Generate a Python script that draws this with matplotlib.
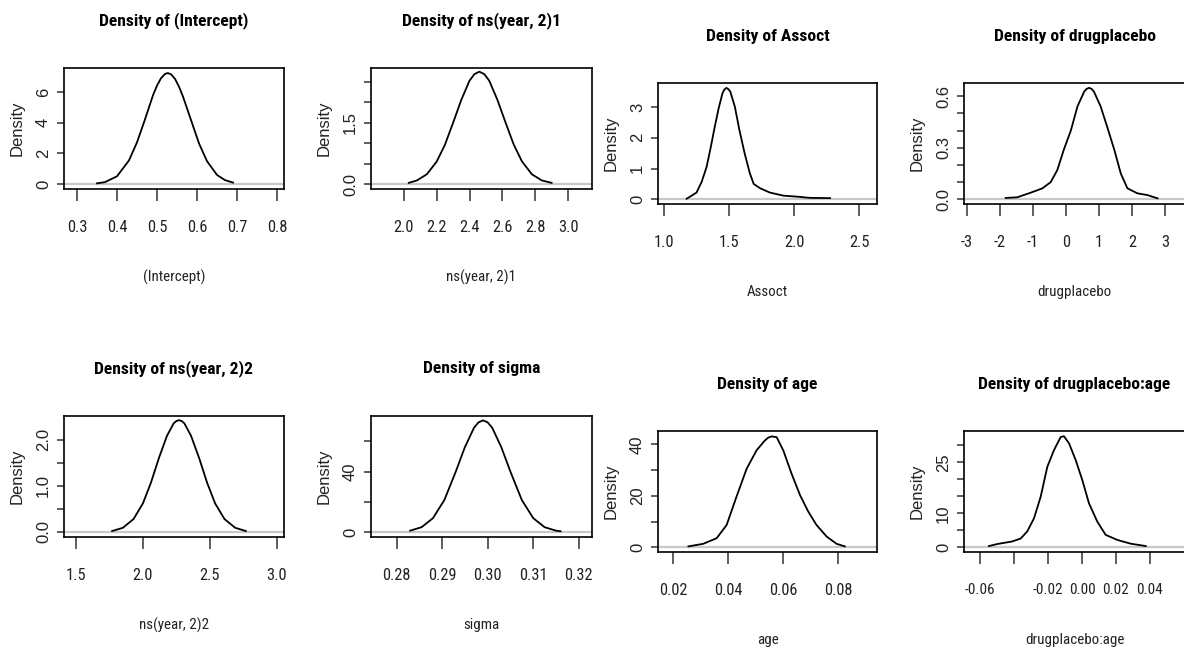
import matplotlib
matplotlib.use("Agg")
import matplotlib.pyplot as plt
import matplotlib.font_manager as fm

# posterior density curves
names = ["(Intercept)", "ns(year, 2)1", "Assoct", "drugplacebo",
         "ns(year, 2)2", "sigma", "age", "drugplacebo:age"]

icpt_x = [0.35, 0.37, 0.40, 0.43, 0.45, 0.47, 0.49, 0.50, 0.51, 0.52, 0.527, 0.535, 0.545, 0.555, 0.565, 0.585, 0.605, 0.625, 0.65, 0.67, 0.69]
icpt_y = [0.04, 0.12, 0.50, 1.54, 2.72, 4.22, 5.80, 6.43, 6.91, 7.19, 7.25, 7.17, 6.87, 6.36, 5.71, 4.18, 2.65, 1.49, 0.59, 0.25, 0.09]

ns1_x = [2.03, 2.08, 2.14, 2.20, 2.25, 2.30, 2.35, 2.40, 2.43, 2.46, 2.49, 2.52, 2.57, 2.62, 2.67, 2.72, 2.78, 2.84, 2.90]
ns1_y = [0.03, 0.09, 0.24, 0.55, 0.96, 1.50, 2.06, 2.53, 2.69, 2.75, 2.69, 2.53, 2.06, 1.50, 0.96, 0.55, 0.24, 0.09, 0.03]

assoc_x = [1.174, 1.25, 1.29, 1.328, 1.36, 1.39, 1.42, 1.45, 1.465, 1.48, 1.495, 1.51, 1.545, 1.58, 1.62, 1.66, 1.69, 1.74, 1.815, 1.92, 2.02, 2.12, 2.277]
assoc_y = [0.02, 0.22, 0.57, 1.06, 1.70, 2.35, 2.95, 3.45, 3.57, 3.62, 3.58, 3.50, 3.01, 2.25, 1.50, 0.85, 0.50, 0.36, 0.22, 0.12, 0.09, 0.05, 0.04]

drug_x = [-1.82, -1.47, -1.06, -0.71, -0.46, -0.26, -0.06, 0.15, 0.35, 0.55, 0.62, 0.70, 0.78, 0.85, 1.05, 1.25, 1.46, 1.66, 1.86, 2.16, 2.46, 2.77]
drug_y = [0.008, 0.012, 0.039, 0.064, 0.10, 0.17, 0.29, 0.40, 0.54, 0.625, 0.641, 0.648, 0.641, 0.625, 0.54, 0.42, 0.29, 0.15, 0.064, 0.035, 0.025, 0.006]

ns2_x = [1.77, 1.85, 1.93, 2.00, 2.06, 2.12, 2.18, 2.23, 2.25, 2.27, 2.29, 2.31, 2.36, 2.42, 2.48, 2.54, 2.61, 2.69, 2.77]
ns2_y = [0.02, 0.09, 0.28, 0.62, 1.07, 1.61, 2.09, 2.36, 2.41, 2.43, 2.41, 2.36, 2.09, 1.61, 1.07, 0.62, 0.28, 0.09, 0.02]

sigma_x = [0.283, 0.2855, 0.288, 0.2905, 0.293, 0.295, 0.297, 0.298, 0.299, 0.300, 0.301, 0.303, 0.305, 0.3075, 0.310, 0.3125, 0.315, 0.316]
sigma_y = [0.9, 3.2, 9.2, 21.2, 40.0, 56.2, 69.1, 72.7, 74.0, 72.7, 69.1, 56.2, 40.0, 21.2, 9.2, 3.2, 0.9, 0.5]

age_x = [0.0255, 0.0309, 0.0358, 0.0394, 0.043, 0.0467, 0.0503, 0.0533, 0.0545, 0.0558, 0.0576, 0.060, 0.063, 0.0661, 0.0691, 0.0721, 0.0758, 0.0794, 0.0824]
age_y = [0.4, 1.4, 3.6, 8.7, 19.7, 30.6, 37.7, 41.5, 42.6, 43.1, 42.8, 37.7, 28.7, 20.3, 13.9, 8.7, 4.2, 1.4, 0.4]

dpa_x = [-0.0547, -0.0498, -0.041, -0.0361, -0.0322, -0.0282, -0.0243, -0.0204, -0.0165, -0.0125, -0.0106, -0.0076, -0.0037, 0.0002, 0.0041, 0.009, 0.0139, 0.0208, 0.0286, 0.0375]
dpa_y = [0.4, 1.0, 1.76, 2.6, 4.7, 8.6, 14.9, 23.7, 28.6, 32.5, 32.7, 30.6, 25.7, 19.8, 13.0, 7.6, 3.7, 2.2, 1.1, 0.4]

curves = [(icpt_x, icpt_y), (ns1_x, ns1_y), (assoc_x, assoc_y), (drug_x, drug_y),
          (ns2_x, ns2_y), (sigma_x, sigma_y), (age_x, age_y), (dpa_x, dpa_y)]

xticks = [
    ([0.3, 0.4, 0.5, 0.6, 0.7, 0.8], ["0.3", "0.4", "0.5", "0.6", "0.7", "0.8"]),
    ([2.0, 2.2, 2.4, 2.6, 2.8, 3.0], ["2.0", "2.2", "2.4", "2.6", "2.8", "3.0"]),
    ([1.0, 1.5, 2.0, 2.5], ["1.0", "1.5", "2.0", "2.5"]),
    ([-3, -2, -1, 0, 1, 2, 3], ["-3", "-2", "-1", "0", "1", "2", "3"]),
    ([1.5, 2.0, 2.5, 3.0], ["1.5", "2.0", "2.5", "3.0"]),
    ([0.28, 0.29, 0.30, 0.31, 0.32], ["0.28", "0.29", "0.30", "0.31", "0.32"]),
    ([0.02, 0.04, 0.06, 0.08], ["0.02", "0.04", "0.06", "0.08"]),
    ([-0.06, -0.04, -0.02, 0.0, 0.02, 0.04], ["-0.06", "", "-0.02", "0.00", "0.02", "0.04"]),
]
yticks = [
    ([0, 2, 4, 6], ["0", "2", "4", "6"]),
    ([0, 0.5, 1.0, 1.5, 2.0, 2.5], ["0.0", "", "", "1.5", "", ""]),
    ([0, 1, 2, 3], ["0", "1", "2", "3"]),
    ([0, 0.1, 0.2, 0.3, 0.4, 0.5, 0.6], ["0.0", "", "", "0.3", "", "", "0.6"]),
    ([0, 0.5, 1.0, 1.5, 2.0], ["0.0", "", "1.0", "", "2.0"]),
    ([0, 20, 40, 60], ["0", "", "40", ""]),
    ([0, 10, 20, 30, 40], ["0", "", "20", "", "40"]),
    ([0, 5, 10, 15, 20, 25, 30], ["0", "", "10", "", "", "25", ""]),
]
xlims = [(0.2675, 0.8175), (1.80, 3.146), (0.954, 2.638), (-3.08, 3.6),
         (1.41, 3.055), (0.2744, 0.3229), (0.01444, 0.0941), (-0.0694, 0.0606)]
ylims = [(-0.33, 7.58), (-0.12, 2.84), (-0.15, 3.78), (-0.027, 0.676),
         (-0.11, 2.52), (-3.3, 76.9), (-1.78, 45.2), (-1.35, 34.25)]

# panel frames in pixels: left, top, right, bottom
frames = [(64, 68, 284, 189), (371, 68, 592, 189), (658, 83, 877, 204), (964, 83, 1185, 204),
          (64, 416, 284, 537), (371, 416, 592, 537), (658, 431, 877, 552), (964, 431, 1185, 552)]

W, H = 1184, 655
PX = 0.72  # points per pixel at dpi 100


def pick_narrow(weight):
    # look for a condensed / narrow face among installed fonts
    best = None
    for f in fm.fontManager.ttflist:
        cond = ("Narrow" in f.name or "Condensed" in f.name or "Cond" in f.fname
                or f.stretch in ("condensed", "semi-condensed", "extra-condensed"))
        if not cond or f.style != "normal":
            continue
        w = f.weight if isinstance(f.weight, int) else (700 if "bold" in str(f.weight).lower() else 400)
        if abs(w - weight) > 100:
            continue
        score = 0
        for k, key in enumerate(["Liberation", "Arial", "Roboto", "Open Sans", "DejaVu", "Noto"]):
            if key in f.name or key.replace(" ", "") in f.fname:
                score = 10 - k
        if best is None or score > best[0]:
            best = (score, f.fname)
    return best[1] if best else None


reg_path = pick_narrow(400)
bold_path = pick_narrow(700)
if reg_path:
    tick_fp = fm.FontProperties(fname=reg_path, size=11.8)
    lab_fp = fm.FontProperties(fname=reg_path, size=10.8)
    small_fp = fm.FontProperties(fname=reg_path, size=11)
else:
    tick_fp = fm.FontProperties(family="Liberation Sans", size=10)
    lab_fp = fm.FontProperties(family="Liberation Sans", size=9.5)
    small_fp = fm.FontProperties(family="Liberation Sans", size=8.5)
if bold_path:
    title_fp = fm.FontProperties(fname=bold_path, size=12.6)
else:
    title_fp = fm.FontProperties(family="Liberation Sans", weight="bold", size=10.5)

REG = ["Liberation Sans", "DejaVu Sans"]

fig = plt.figure(figsize=(W / 100, H / 100), dpi=100)

for i in range(8):
    l, t, r, b = frames[i]
    ax = fig.add_axes([l / W, 1 - b / H, (r - l) / W, (b - t) / H])
    ax.axhline(0, color="#c8c8c8", lw=1.6, zorder=1)
    ax.plot(curves[i][0], curves[i][1], color="black", lw=1.3, zorder=2)
    ax.set_xlim(xlims[i])
    ax.set_ylim(ylims[i])

    ax.set_xticks(xticks[i][0])
    ax.set_xticklabels(xticks[i][1], fontproperties=small_fp if i == 7 else tick_fp, color="#222")
    ax.set_yticks(yticks[i][0])
    ax.set_yticklabels(yticks[i][1], family=REG, fontsize=12, color="#222",
                       rotation=90, va="center")
    ax.tick_params(axis="x", length=12 * PX, width=1.1, pad=19 * PX, color="#333")
    ax.tick_params(axis="y", length=7 * PX, width=1.1, pad=6 * PX, color="#333")
    for s in ax.spines.values():
        s.set_linewidth(1.2)

    ax.annotate("Density of " + names[i], xy=(0.5, 1), xycoords="axes fraction",
                xytext=(0, 47 * PX), textcoords="offset points", ha="center", va="center",
                fontproperties=title_fp)
    ax.annotate(names[i], xy=(0.5, 0), xycoords="axes fraction",
                xytext=(0, -88 * PX), textcoords="offset points", ha="center", va="center",
                fontproperties=lab_fp, color="#222")
    ax.annotate("Density", xy=(0, 0.5), xycoords="axes fraction",
                xytext=(-47 * PX, 0), textcoords="offset points", ha="center", va="center",
                rotation=90, family=REG, fontsize=12, color="#222")

fig.savefig("out.png", dpi=100)
